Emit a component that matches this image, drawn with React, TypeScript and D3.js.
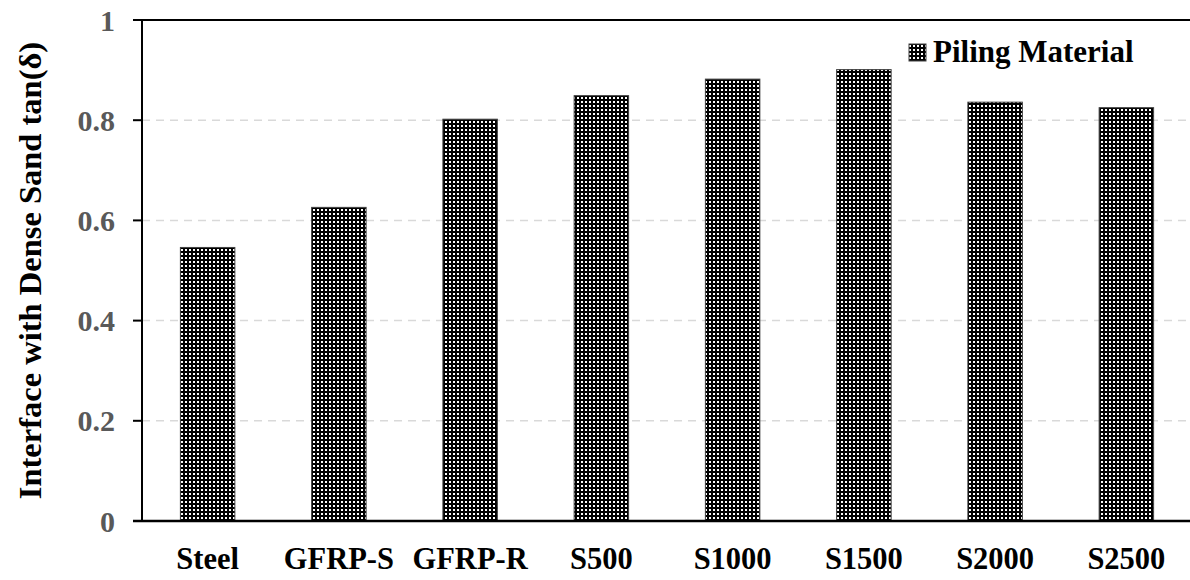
import React from "react";
import * as d3 from "d3";

const categories = ["Steel", "GFRP-S", "GFRP-R", "S500", "S1000", "S1500", "S2000", "S2500"];
const values = [0.546, 0.626, 0.802, 0.849, 0.882, 0.901, 0.836, 0.825];
const yTicks = [0, 0.2, 0.4, 0.6, 0.8, 1];
const yTickLabels = ["0", "0.2", "0.4", "0.6", "0.8", "1"];
const seriesName = "Piling Material";
const yTitle = "Interface with Dense Sand tan(δ)";

const W = 1190;
const H = 580;
const left = 142;
const right = 1192;
const top = 20;
const bottom = 521;
const FONT = "'Liberation Serif', 'Times New Roman', serif";

export default function App() {
  const x = d3.scaleBand<string>().domain(categories).range([left, right]).padding(0);
  const y = d3.scaleLinear().domain([0, 1]).range([bottom, top]);
  const bw = x.bandwidth() * 0.415;

  return (
    <svg
      width={W}
      height={H}
      style={{ position: "absolute", left: 0, top: 0, background: "#fff" }}
      fontFamily={FONT}
    >
      <defs>
        <pattern id="dots" patternUnits="userSpaceOnUse" width={4} height={4}>
          <rect x={0} y={0} width={4} height={4} fill="#000" />
          <rect x={1} y={1} width={2} height={2} fill="#fff" />
        </pattern>
      </defs>
      <rect x={0} y={0} width={W} height={H} fill="#fff" />
      {yTicks
        .filter((t) => t > 0 && t < 1)
        .map((t) => (
          <line
            key={"g" + t}
            x1={left}
            x2={W}
            y1={y(t)}
            y2={y(t)}
            stroke="#d9d9d9"
            strokeWidth={1.5}
            strokeDasharray="8,6"
          />
        ))}
      <line x1={133} x2={W} y1={y(1)} y2={y(1)} stroke="#000" strokeWidth={2} />
      {categories.map((c, i) => {
        const cx = (x(c) as number) + x.bandwidth() / 2;
        return (
          <rect
            key={c}
            x={cx - bw / 2}
            y={y(values[i])}
            width={bw}
            height={y(0) - y(values[i])}
            fill="url(#dots)"
            stroke="#404040"
            strokeWidth={1}
          />
        );
      })}
      <line x1={left} x2={left} y1={y(1)} y2={y(0)} stroke="#000" strokeWidth={2} />
      {yTicks.map((t) => (
        <line key={"t" + t} x1={133} x2={left} y1={y(t)} y2={y(t)} stroke="#000" strokeWidth={2} />
      ))}
      <line x1={133} x2={W} y1={y(0)} y2={y(0)} stroke="#000" strokeWidth={2.5} />
      {yTicks.map((t, i) => (
        <text
          key={"l" + t}
          x={115}
          y={y(t)}
          dy="0.35em"
          textAnchor="end"
          fontSize={30}
          fontWeight="bold"
          fill="#595959"
        >
          {yTickLabels[i]}
        </text>
      ))}
      {categories.map((c) => (
        <text
          key={"x" + c}
          x={(x(c) as number) + x.bandwidth() / 2}
          y={569}
          textAnchor="middle"
          fontSize={30.5}
          fontWeight="bold"
          fill="#000"
        >
          {c}
        </text>
      ))}
      <text
        transform={`translate(41, ${(y(0) + y(1)) / 2}) rotate(-90)`}
        textAnchor="middle"
        fontSize={32.5}
        fontWeight="bold"
        fill="#000"
      >
        {yTitle}
      </text>
      <rect x={909} y={44} width={17} height={17} fill="url(#dots)" stroke="#404040" strokeWidth={1} />
      <text x={933} y={62} fontSize={31} fontWeight="bold" fill="#000">
        {seriesName}
      </text>
    </svg>
  );
}
